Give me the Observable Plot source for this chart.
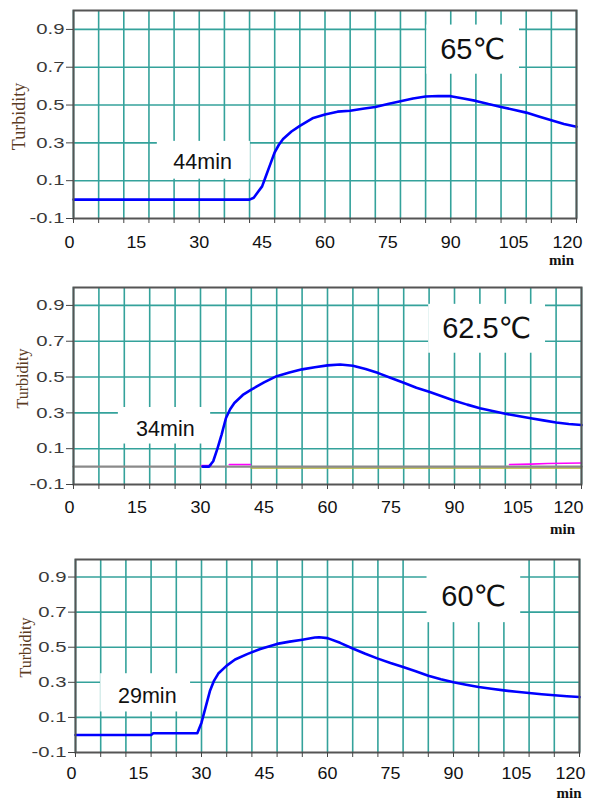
<!DOCTYPE html>
<html><head><meta charset="utf-8">
<script src="https://cdn.jsdelivr.net/npm/d3@7"></script>
<script src="https://cdn.jsdelivr.net/npm/@observablehq/plot@0.6"></script>
<style>
body{margin:0;background:#fff;width:592px;}
#c svg{display:block;}
</style></head><body><div id="c"></div>
<script>
// ---- tick / grid values ----
const xLabels = [0,15,30,45,60,75,90,105,120];
const xGrid = [0,6,12,18,24,30,36,42,48,54,60,66,72,78,84,90,96,102,108,114,120];
const yTicks = [-0.1,0.1,0.3,0.5,0.7,0.9];
const yGrid = [0.1,0.3,0.5,0.7,0.9];

// ---- 65°C ----
const t65 = [0,42,43,44,45,46,47,48,49,50,52,54,57,60,63,66,69,72,75,78,81,84,87,90,93,96,99,102,105,108,111,114,117,120];
const v65 = [0,0,0.01,0.04,0.07,0.13,0.19,0.25,0.29,0.32,0.36,0.39,0.43,0.45,0.465,0.47,0.48,0.49,0.505,0.52,0.535,0.545,0.548,0.547,0.535,0.522,0.505,0.49,0.475,0.46,0.44,0.42,0.40,0.385];

// ---- 62.5°C ----
const t625 = [30.5,32,33,34,35,36,37,38,40,42,45,48,51,54,57,60,63,66,69,72,75,78,81,84,87,90,93,96,99,102,105,108,111,114,117,120];
const v625 = [0,0,0.03,0.10,0.18,0.27,0.32,0.355,0.40,0.43,0.47,0.505,0.525,0.543,0.555,0.565,0.57,0.563,0.545,0.522,0.495,0.468,0.44,0.418,0.393,0.368,0.346,0.326,0.31,0.295,0.282,0.27,0.258,0.246,0.238,0.232];
const tGray = [0,120];
const vGray = [0,0];
const tOlive = [42,120];
const vOlive = [-0.008,-0.008];
const tMag = [30.3,32.5,NaN,36.8,41.8,NaN,103,108,112,116,120];
const vMag = [0.006,0.006,NaN,0.012,0.012,NaN,0.012,0.014,0.017,0.019,0.02];

// ---- 60°C ----
const t60 = [0,18,18.5,29,30,31,32,33,34,36,38,41,44,48,51,54,57,58,60,63,66,69,72,75,78,81,84,87,90,93,96,99,102,105,108,111,114,117,120];
const v60 = [0,0,0.01,0.01,0.07,0.16,0.25,0.31,0.35,0.395,0.43,0.462,0.49,0.519,0.532,0.543,0.555,0.557,0.552,0.525,0.493,0.463,0.435,0.41,0.387,0.363,0.337,0.317,0.30,0.286,0.273,0.263,0.254,0.246,0.239,0.232,0.226,0.221,0.216];

// ---- annotations ----
const timeLabels = ["44min","34min","29min"];
const tempLabels = ["65\u2103","62.5\u2103","60\u2103"];

const GRID = "#34a29b";
const SANS = "Liberation Sans, Arial, DejaVu Sans, sans-serif";
const SERIF = "Liberation Serif, Times New Roman, serif";
const series = (t, v) => t.map((x, i) => ({t: x, v: v[i]}));
const line = (t, v, stroke, w) => Plot.line(series(t, v), {x: "t", y: "v", stroke, strokeWidth: w, curve: "linear"});

// widen glyphs horizontally around their anchor point (reference text is horizontally stretched)
function stretch(svg, label, s) {
  svg.querySelectorAll(`g[aria-label="${label}"] text`).forEach(t => {
    const xa = t.getAttribute("x");
    let x = 0;
    if (xa !== null && xa !== "" && !isNaN(+xa)) { x = +xa; t.removeAttribute("x"); }
    const tr = t.getAttribute("transform") || "";
    t.setAttribute("transform", `${tr} translate(${x},0) scale(${s},1)`);
  });
}

function panel(cfg) {
  const xLab = {tickSize: 0, tickPadding: cfg.xpad, fontSize: 16, fill: "#111", tickFormat: d => String(d), label: null};
  const svg = Plot.plot({
    width: 592, height: cfg.height,
    marginTop: cfg.mt, marginBottom: cfg.mb, marginLeft: cfg.ml, marginRight: cfg.mr,
    x: {domain: [0, 120], label: null},
    y: {domain: [-0.1, 1.0], label: null},
    style: {fontFamily: SANS, background: "white", overflow: "visible"},
    marks: [
      Plot.ruleX(xGrid, {stroke: GRID, strokeWidth: 1.6}),
      Plot.ruleY(yGrid, {stroke: GRID, strokeWidth: 1.6}),
      Plot.rect(cfg.boxes, {x1: "x1", x2: "x2", y1: "y1", y2: "y2", fill: "white"}),
      ...cfg.lines,
      Plot.frame({stroke: "#555", strokeWidth: 2}),
      Plot.axisX(xGrid, {tickSize: 5, tickFormat: () => "", stroke: "#444", label: null}),
      Plot.axisX(xLabels.slice(0, 1), {...xLab, dx: -4}),
      Plot.axisX(xLabels.slice(1, -1), xLab),
      Plot.axisX(xLabels.slice(-1), {...xLab, dx: cfg.d120}),
      Plot.axisY(yTicks, {tickSize: 7, tickPadding: 2, fontSize: 14.5, fill: "#3a3a3a", stroke: "#444", tickFormat: d => d.toFixed(1), label: null}),
      Plot.text([cfg.time], {x: () => cfg.timePos[0], y: () => cfg.timePos[1], text: d => d.s, fontSize: 21.5, fill: "#111", lineAnchor: "middle", ariaLabel: "time-label"}),
      Plot.text([cfg.temp], {x: () => cfg.tempPos[0], y: () => cfg.tempPos[1], text: d => d.s, fontSize: 29, fill: "#111", lineAnchor: "middle"}),
      Plot.text(["Turbidity"], {frameAnchor: "left", rotate: -90, dx: cfg.ydx, dy: cfg.ydy, fontFamily: SERIF, fontSize: cfg.yfs, fill: "#5b3b1f", lineAnchor: "middle", textAnchor: "middle"}),
      Plot.text(["min"], {frameAnchor: "bottom-right", dx: cfg.mdx, dy: cfg.mdy, lineAnchor: "bottom", textAnchor: "middle", fontFamily: SERIF, fontWeight: "bold", fontSize: 15, fill: "#111"})
    ]
  });
  stretch(svg, "y-axis tick label", 1.4);
  stretch(svg, "x-axis tick label", 1.12);
  stretch(svg, "time-label", 1.17);
  return svg;
}

const c = document.getElementById("c");
c.append(panel({
  height: 270, mt: 10, mb: 52, ml: 73, mr: 16, xpad: 18, d120: -9,
  boxes: [{x1: 20, x2: 42.2, y1: 0.108, y2: 0.308}, {x1: 84.3, x2: 106.4, y1: 0.663, y2: 0.923}],
  lines: [line(t65, v65, "#0000ff", 2.6)],
  time: {s: timeLabels[0]}, timePos: [30.8, 0.2],
  temp: {s: tempLabels[0]}, tempPos: [95.2, 0.79],
  ydx: -54, ydy: 2, yfs: 18, mdx: -15, mdy: 46
}));
c.append(panel({
  height: 265, mt: 17, mb: 51, ml: 73, mr: 11, xpad: 17, d120: -13,
  boxes: [{x1: 10.6, x2: 32.4, y1: 0.126, y2: 0.33}, {x1: 83.9, x2: 111.5, y1: 0.633, y2: 0.906}],
  lines: [line(tOlive, vOlive, "#b2b22e", 1.6), line(tGray, vGray, "#8a8a8a", 2.4), line(tMag, vMag, "#ff00ff", 1.6), line(t625, v625, "#0000ff", 2.6)],
  time: {s: timeLabels[1]}, timePos: [21.7, 0.21],
  temp: {s: tempLabels[1]}, tempPos: [97.6, 0.77],
  ydx: -51, ydy: -7.5, yfs: 16, mdx: -19, mdy: 49
}));
c.append(panel({
  height: 266, mt: 24, mb: 49, ml: 75, mr: 13, xpad: 15.5, d120: -9,
  boxes: [{x1: 6, x2: 27.4, y1: 0.131, y2: 0.349}, {x1: 83.7, x2: 106, y1: 0.64, y2: 1.0}],
  lines: [line(t60, v60, "#0000ff", 2.6)],
  time: {s: timeLabels[2]}, timePos: [17.1, 0.22],
  temp: {s: tempLabels[2]}, tempPos: [94.8, 0.79],
  ydx: -50, ydy: -8.5, yfs: 16, mdx: -10.5, mdy: 45
}));
</script></body></html>
